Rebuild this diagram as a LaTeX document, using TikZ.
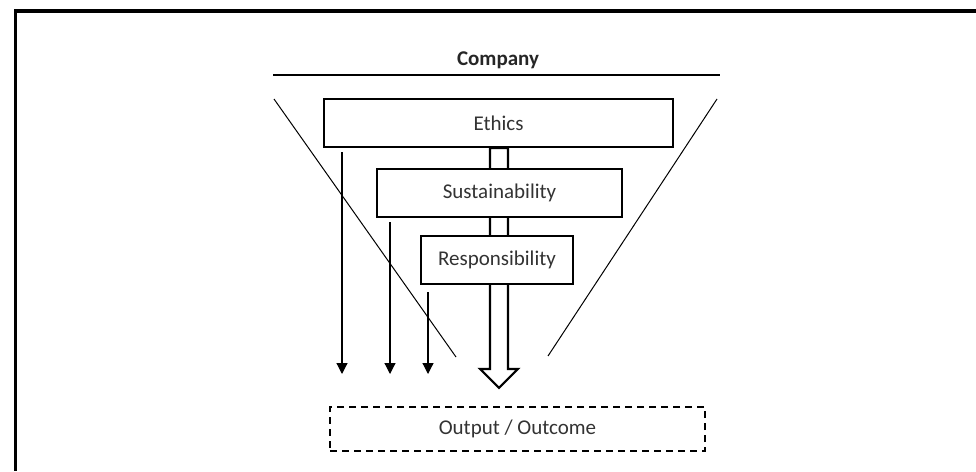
\documentclass[tikz,border=0pt]{standalone}
\usepackage{fontspec}
\setmainfont{Carlito}
\usetikzlibrary{arrows.meta, backgrounds, calc}

\begin{document}
\begin{tikzpicture}[x=1pt,y=-1pt]
            \tikzstyle{level}=[draw, line width=1.8pt, fill=white, minimum height=48pt, inner sep=0pt, text=black!80, font=\fontsize{21}{25}\selectfont]
            \tikzstyle{flow}=[-{Triangle[width=11pt,length=11pt]}, line width=1.2pt]

            \useasboundingbox (0,0) rectangle (976,471);
            \draw[line width=3.6pt] (976,10.7) -- (15.3,10.7) -- (15.3,471);

            \node[text=black!85, font=\bfseries\fontsize{21}{25}\selectfont] (company) at (498,60) {Company};
            \coordinate (rule_l) at (273,75);
            \coordinate (rule_r) at (720,75);
            \draw[line width=1.3pt] (rule_l) -- (rule_r);

            % funnel sides
            \coordinate (fun_l1) at (274,99);
            \coordinate (fun_l2) at (456,357);
            \coordinate (fun_r1) at (717,99);
            \coordinate (fun_r2) at (548,356);
            \draw[line width=1pt] (fun_l1) -- (fun_l2);
            \draw[line width=1pt] (fun_r1) -- (fun_r2);

            \node[level, minimum width=349pt] (ethics) at (498.5,123) {Ethics};
            \node[level, minimum width=245pt] (sustain) at (499.5,193) {Sustainability};
            \node[level, minimum width=152pt] (respons) at (497,260) {Responsibility};
            \node[draw, line width=1.6pt, dash pattern=on 7pt off 5pt, minimum width=375pt, minimum height=44pt, inner sep=0pt, text=black!80, font=\fontsize{21}{25}\selectfont] (outcome) at (517.5,429) {Output / Outcome};

            % hollow arrow behind the boxes
            \begin{scope}[on background layer]
            \draw[line width=2.2pt, line join=miter] ($(ethics.south)+(-8.5,0)$) -- ++(0,221) -- ++(-10,0) -- ++(19,19) -- ++(19,-19) -- ++(-10,0) -- ($(ethics.south)+(9.5,0)$) -- cycle;
            \end{scope}

            \coordinate (e_top) at (342,152);
            \coordinate (e_bot) at (342,374);
            \coordinate (s_top) at (390,222);
            \coordinate (s_bot) at (390,374);
            \coordinate (r_top) at (428,292);
            \coordinate (r_bot) at (428,374);

            \path[flow]
            (e_top) edge (e_bot)
            (s_top) edge (s_bot)
            (r_top) edge (r_bot);

\end{tikzpicture}
\end{document}
